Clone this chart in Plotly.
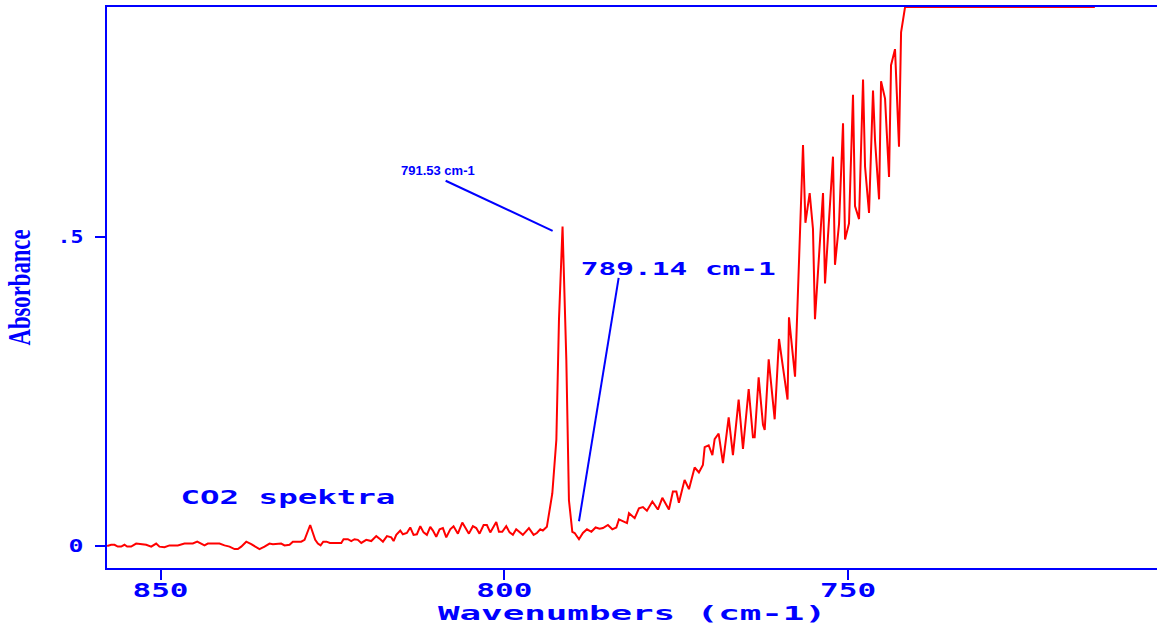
import plotly.graph_objects as go

# Wavenumbers (cm-1) of the spectrum vertices
wavenumber = [
    857.76, 857.18, 856.69, 856.21, 855.72, 855.24, 854.85, 854.27, 853.54, 853.05,
    852.08, 851.35, 850.63, 850.15, 849.42, 848.69, 847.48, 846.51, 845.30, 844.66,
    844.08, 843.60, 843.12, 841.42, 840.69, 839.96, 839.23, 838.75, 838.26, 837.53,
    836.80, 836.32, 835.60, 834.87, 834.14, 833.66, 832.93, 832.45, 831.96, 831.23,
    830.75, 829.54, 829.05, 828.23, 827.50, 827.11, 826.72, 826.33, 825.85, 825.37,
    823.71, 823.38, 822.75, 822.26, 821.78, 821.30, 820.80, 820.08, 819.35, 818.62,
    818.04, 817.65, 817.07, 816.44, 816.10, 815.71, 815.13, 814.75, 814.17, 813.68,
    813.20, 812.71, 812.22, 811.74, 811.26, 810.77, 810.38, 809.90, 809.41, 808.93,
    808.44, 807.86, 807.38, 806.75, 806.11, 805.63, 805.15, 804.57, 804.08, 803.60,
    803.01, 802.53, 802.04, 801.17, 800.78, 800.30, 799.72, 799.23, 798.75, 798.27,
    797.78, 797.30, 796.42, 795.74, 795.26, 794.77, 794.39, 793.81, 793.02, 792.43,
    792.05, 791.53, 790.98, 790.60, 790.11, 789.77, 789.14, 788.57, 787.98, 787.34,
    786.72, 786.14, 785.65, 784.93, 784.29, 783.71, 783.33, 782.16, 781.87, 781.04,
    780.42, 779.84, 779.26, 778.47, 777.66, 777.02, 776.06, 775.48, 774.98, 774.61,
    773.78, 773.15, 772.32, 771.70, 771.12, 770.86, 770.28, 769.74, 769.41, 768.83,
    768.20, 767.37, 766.75, 765.92, 765.29, 764.46, 763.84, 763.59, 763.01, 762.38,
    762.13, 761.55, 760.68, 760.05, 759.56, 758.81, 758.60, 757.72, 756.56, 756.21,
    755.59, 755.11, 754.82, 753.65, 753.36, 752.20, 751.91, 751.32, 750.74, 750.45,
    749.87, 749.29, 749.00, 748.41, 747.83, 747.54, 746.96, 746.38, 746.09, 745.50,
    745.21, 744.63, 744.05, 743.76, 743.18, 742.60, 742.30, 741.72, 714.12,
]

# Absorbance at each vertex (values above the frame are clamped at its top, as in the picture)
absorbance = [
    0.000, 0.002, 0.002, -0.001, -0.001, 0.002, -0.001, -0.001, 0.004, 0.003,
    0.002, -0.001, 0.004, -0.001, -0.002, 0.001, 0.001, 0.004, 0.004, 0.007,
    0.003, 0.001, 0.004, 0.004, 0.001, -0.001, -0.005, -0.005, -0.001, 0.007,
    0.003, 0.000, -0.005, -0.001, 0.004, 0.003, 0.003, 0.004, 0.001, 0.002,
    0.007, 0.007, 0.010, 0.034, 0.010, 0.004, 0.001, 0.007, 0.007, 0.005,
    0.005, 0.011, 0.011, 0.008, 0.011, 0.010, 0.005, 0.010, 0.008, 0.016,
    0.011, 0.007, 0.016, 0.014, 0.008, 0.018, 0.025, 0.019, 0.021, 0.030,
    0.018, 0.019, 0.032, 0.022, 0.018, 0.031, 0.025, 0.015, 0.027, 0.029,
    0.014, 0.027, 0.032, 0.020, 0.038, 0.029, 0.020, 0.032, 0.029, 0.020,
    0.034, 0.034, 0.022, 0.039, 0.023, 0.023, 0.032, 0.022, 0.018, 0.027,
    0.023, 0.018, 0.029, 0.018, 0.021, 0.027, 0.025, 0.031, 0.085, 0.172,
    0.366, 0.517, 0.301, 0.074, 0.023, 0.021, 0.011, 0.021, 0.027, 0.023,
    0.030, 0.028, 0.029, 0.034, 0.027, 0.030, 0.043, 0.037, 0.053, 0.045,
    0.061, 0.063, 0.057, 0.072, 0.059, 0.078, 0.059, 0.088, 0.088, 0.070,
    0.107, 0.092, 0.127, 0.119, 0.131, 0.160, 0.163, 0.147, 0.173, 0.182,
    0.134, 0.208, 0.147, 0.237, 0.157, 0.254, 0.176, 0.176, 0.273, 0.196,
    0.188, 0.302, 0.205, 0.335, 0.296, 0.237, 0.370, 0.274, 0.649, 0.523,
    0.571, 0.513, 0.367, 0.571, 0.425, 0.630, 0.455, 0.521, 0.684, 0.496,
    0.522, 0.730, 0.550, 0.529, 0.755, 0.614, 0.539, 0.737, 0.657, 0.561,
    0.752, 0.724, 0.597, 0.778, 0.804, 0.646, 0.831, 0.872, 0.872,
]

x_tick_vals = [850, 800, 750]
x_tick_text = ["850", "800", "750"]
y_tick_vals = [0, 0.5]
y_tick_text = ["0", ".5"]

peak_label = "791.53 cm-1"
peak_wn, peak_abs = 791.53, 0.517
valley_label = "789.14 cm-1"
valley_wn, valley_abs = 789.14, 0.011
sample_label = "CO2 spektra"

BLUE = "#0000FF"
RED = "#FF0000"
MONO = "DejaVu Sans Mono"

fig = go.Figure()
fig.add_trace(go.Scatter(
    x=wavenumber, y=absorbance, mode="lines",
    line=dict(color=RED, width=2), hoverinfo="skip", showlegend=False,
))

# leader lines of the two peak labels
fig.add_shape(type="line", xref="x", yref="y",
              x0=peak_wn + 17.0, y0=peak_abs + 0.074,
              x1=peak_wn + 1.44, y1=peak_abs - 0.007,
              line=dict(color=BLUE, width=2))
fig.add_shape(type="line", xref="x", yref="y",
              x0=valley_wn - 5.77, y0=valley_abs + 0.423,
              x1=valley_wn, y1=valley_abs + 0.029,
              line=dict(color=BLUE, width=2))

fig.add_annotation(x=peak_wn + 18.1, y=peak_abs + 0.091, text=peak_label, showarrow=False,
                   font=dict(family="Liberation Sans", size=13, color=BLUE, weight="bold"))
fig.add_annotation(x=774.72, y=0.448, text=valley_label, showarrow=False,
                   font=dict(family=MONO, size=17, color=BLUE, weight="bold"))
fig.add_annotation(x=831.45, y=0.0793, text=sample_label, showarrow=False,
                   font=dict(family=MONO, size=19, color=BLUE, weight="bold"))

axis_common = dict(
    showgrid=False, zeroline=False, showline=True, linecolor=BLUE, linewidth=2,
    ticks="outside", ticklen=10, tickwidth=2, tickcolor=BLUE,
)

fig.update_layout(
    width=1159, height=632,
    margin=dict(l=107, r=2, t=7, b=64),
    paper_bgcolor="white", plot_bgcolor="white",
    xaxis=dict(
        range=[857.78, 705.08], tickvals=x_tick_vals, ticktext=x_tick_text,
        mirror=True, ticklabelstandoff=-6,
        tickfont=dict(family=MONO, size=19, color=BLUE, weight="bold"),
        title=dict(text="Wavenumbers (cm-1)", standoff=6,
                   font=dict(family=MONO, size=20, color=BLUE, weight="bold")),
        **axis_common,
    ),
    yaxis=dict(
        range=[-0.0356, 0.8722], tickvals=y_tick_vals, ticktext=y_tick_text,
        ticklabelstandoff=8,
        tickfont=dict(family=MONO, size=18, color=BLUE, weight="bold"),
        title=dict(text="Absorbance", standoff=22,
                   font=dict(family="Liberation Serif", size=31, color=BLUE, weight="bold")),
        **axis_common,
    ),
)

post = """
var gd = document.getElementById('{plot_id}');
var widths = {"850":56, "800":56, "750":56, "0":15, ".5":26,
              "Wavenumbers (cm-1)":388, "789.14 cm-1":195, "CO2 spektra":215, "Absorbance":116};
gd.querySelectorAll('text').forEach(function(t){
  var s = t.textContent;
  if (Object.prototype.hasOwnProperty.call(widths, s)) {
    t.setAttribute('textLength', widths[s]);
    t.setAttribute('lengthAdjust', 'spacingAndGlyphs');
  }
});
"""

fig.write_html("out.html", config={"displayModeBar": False}, post_script=post)
